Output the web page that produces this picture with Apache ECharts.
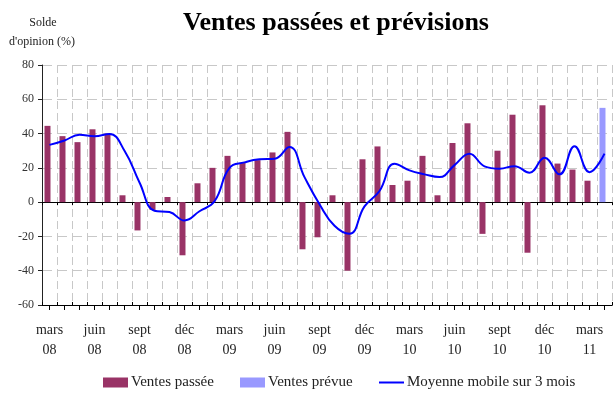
<!DOCTYPE html>
<html>
<head>
<meta charset="utf-8">
<script src="https://cdn.jsdelivr.net/npm/echarts@6/dist/echarts.min.js"></script>
<style>html,body{margin:0;padding:0;background:#fff}#c{width:614px;height:412px}</style>
</head>
<body>
<div id="c"></div>
<script>
const categories = ['mars 08','avr 08','mai 08','juin 08','juil 08','août 08','sept 08','oct 08','nov 08','déc 08',
  'janv 09','févr 09','mars 09','avr 09','mai 09','juin 09','juil 09','août 09','sept 09','oct 09','nov 09','déc 09',
  'janv 10','févr 10','mars 10','avr 10','mai 10','juin 10','juil 10','août 10','sept 10','oct 10','nov 10','déc 10',
  'janv 11','févr 11','mars 11','avr 11'];
const ventesPassees = [44.5, 38.5, 35, 42.5, 40, 4, -16.5, -4.5, 3, -31, 11, 20, 27, 23, 24.5, 29, 41, -27.5, -20.5, 4,
  -40, 25, 32.5, 10, 12.5, 27, 4, 34.5, 46, -18.5, 30, 51, -29.5, 56.5, 22.5, 19, 12.5, null];
const ventesPrevues = [null, null, null, null, null, null, null, null, null, null, null, null, null, null, null, null,
  null, null, null, null, null, null, null, null, null, null, null, null, null, null, null, null, null, null, null, null, null, 55];
const moyenneMobile = [33.4, 36, 39.3, 38.5, 39.8, 30, 11.5, -5, -5.8, -10.7, -5.3, 0.5, 20, 23.2, 25, 25.3, 32.2, 14.6,
  -1.2, -13.8, -18.5, -2.5, 6.5, 22.4, 18.5, 16.2, 14.6, 21.6, 28.3, 20.9, 19.5, 21, 17.2, 25.9, 16.2, 32.6, 17.5, 28.3];
const yTicks = {min: -60, max: 80, interval: 20};
const names = ['Ventes passée', 'Ventes prévue', 'Moyenne mobile sur 3 mois'];

const SERIF = '"Liberation Serif", "DejaVu Serif", serif';
const zeroAxis = (tick) => ({
  type: 'category', data: categories, position: 'bottom', boundaryGap: true,
  axisLine: {show: true, onZero: true, lineStyle: {color: '#000', width: 1}},
  axisTick: tick, axisLabel: {show: false}, splitLine: {show: false}
});
const legendText = {fontFamily: SERIF, fontSize: 15, color: '#222', padding: [0, 0, 0, -2]};
const chart = echarts.init(document.getElementById('c'), null, {renderer: 'canvas'});
chart.setOption({
  animation: false,
  backgroundColor: '#fff',
  grid: {left: 42, right: 2, top: 65, bottom: 107, containLabel: false},
  graphic: [
    {type: 'text', style: {text: 'Ventes passées et prévisions', x: 336, y: 23, align: 'center', verticalAlign: 'middle',
      font: 'bold 26px ' + SERIF, fill: '#000'}},
    {type: 'text', style: {text: 'Solde', x: 43, y: 23, align: 'center', verticalAlign: 'middle', font: '12px ' + SERIF, fill: '#222'}},
    {type: 'text', style: {text: "d'opinion (%)", x: 42, y: 42, align: 'center', verticalAlign: 'middle', font: '12px ' + SERIF, fill: '#222'}}
  ],
  legend: [
    {left: 98, top: 370, itemWidth: 25, itemHeight: 10, data: [{name: names[0], icon: 'rect'}], textStyle: legendText},
    {left: 235, top: 370, itemWidth: 25, itemHeight: 10, data: [{name: names[1], icon: 'rect'}], textStyle: legendText},
    {left: 374, top: 370, itemWidth: 25, itemHeight: 2, data: [{name: names[2], icon: 'rect'}], textStyle: legendText}
  ],
  xAxis: [
    {type: 'category', data: categories, position: 'bottom', boundaryGap: true,
      axisLine: {show: false, onZero: false}, axisTick: {show: false},
      axisLabel: {interval: 2, margin: 15, fontFamily: SERIF, fontSize: 14, color: '#222', lineHeight: 20,
        formatter: v => v.replace(' ', '\n')},
      splitLine: {show: true, interval: 0, lineStyle: {color: '#c8c8c8', width: 1, type: [8, 4]}}},
    zeroAxis({show: true, inside: false, length: 3, interval: 0, lineStyle: {color: '#000'}}),
    zeroAxis({show: true, inside: true, length: 3, interval: 0, lineStyle: {color: '#000'}}),
    zeroAxis({show: true, inside: false, length: 5, interval: 0, alignWithLabel: true, lineStyle: {color: '#000'}})
  ],
  yAxis: {
    type: 'value', min: yTicks.min, max: yTicks.max, interval: yTicks.interval,
    axisLine: {show: true, lineStyle: {color: '#222', width: 1}},
    axisTick: {show: true, inside: false, length: 4, lineStyle: {color: '#222'}},
    axisLabel: {margin: 8, fontFamily: SERIF, fontSize: 12, color: '#333'},
    splitLine: {show: true, lineStyle: {color: '#c8c8c8', width: 1, type: [10, 5]}}
  },
  series: [
    {name: names[0], type: 'bar', xAxisIndex: 0, stack: 'v', data: ventesPassees, barWidth: 6, barGap: '-33%',
      itemStyle: {color: '#993366'}},
    {name: names[1], type: 'bar', xAxisIndex: 0, stack: 'v', data: ventesPrevues, barWidth: 6,
      itemStyle: {color: '#9999ff'}},
    {name: '_shift', type: 'bar', xAxisIndex: 0, data: [], barWidth: 6, barGap: '-33%'},
    {name: names[2], type: 'line', xAxisIndex: 0, data: moyenneMobile, smooth: 0.45, symbol: 'none',
      lineStyle: {color: '#0000ff', width: 2}, itemStyle: {color: '#0000ff'}, z: 5}
  ]
});
</script>
</body>
</html>
